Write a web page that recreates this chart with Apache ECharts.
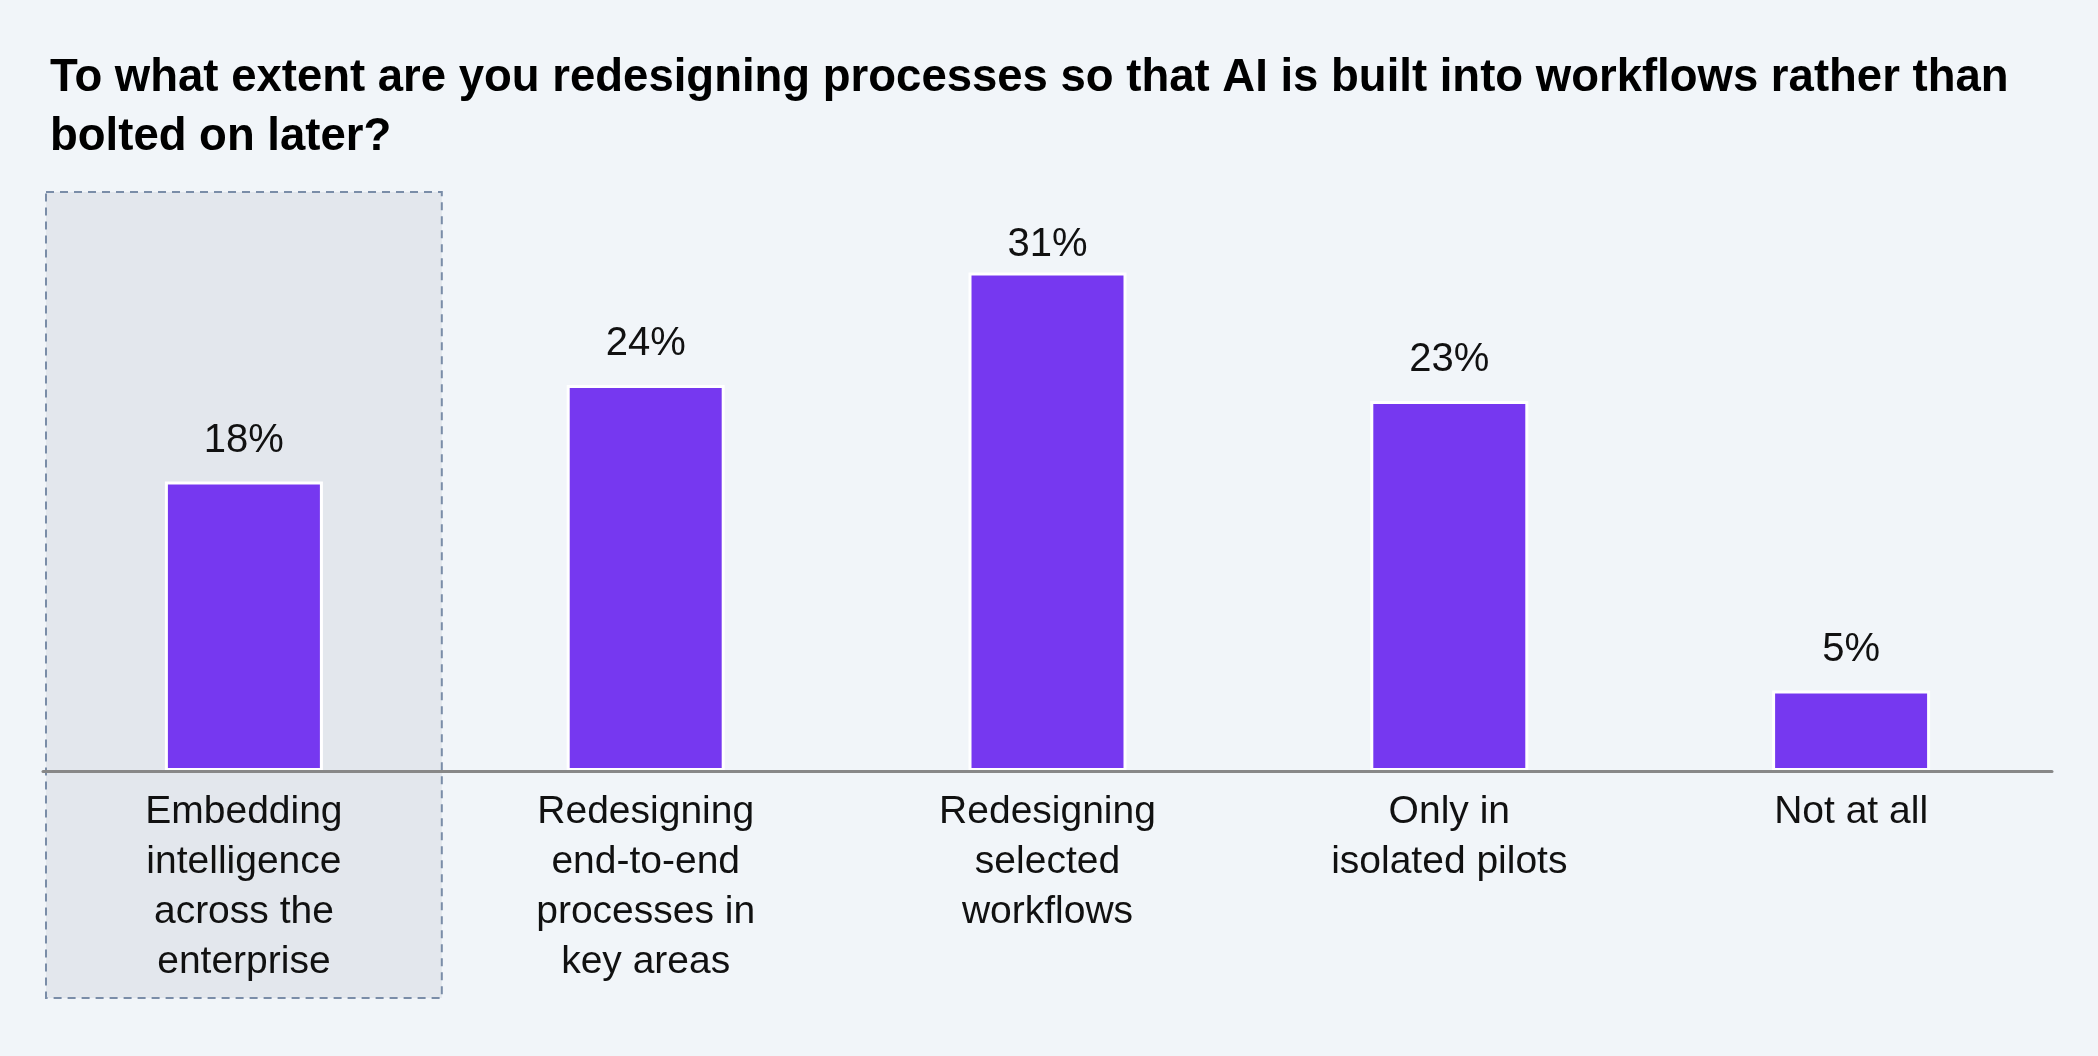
<!DOCTYPE html>
<html>
<head>
<meta charset="utf-8">
<title>AI process redesign</title>
<script src="https://cdn.jsdelivr.net/npm/echarts@6/dist/echarts.min.js"></script>
<style>
  html, body {
    margin: 0;
    padding: 0;
    background: #f1f5f9;
  }
  #chart {
    width: 2098px;
    height: 1056px;
  }
</style>
</head>
<body>
<div id="chart"></div>
<script>
// data
const categories = [
  'Embedding\nintelligence\nacross the\nenterprise',
  'Redesigning\nend-to-end\nprocesses in\nkey areas',
  'Redesigning\nselected\nworkflows',
  'Only in\nisolated pilots',
  'Not at all',
];
const shares = [18, 24, 31, 23, 5];
const highlightIndex = 0;

const FONT = '"Liberation Sans", Arial, Helvetica, sans-serif';

const chart = echarts.init(document.getElementById('chart'));

// the tallest bar's label sits a little closer to the bar in the original
const maxShare = Math.max(...shares);
const barData = shares.map((v) =>
  v === maxShare ? { value: v, label: { distance: 7 } } : v
);

const option = {
  backgroundColor: '#f1f5f9',
  animation: false,
  title: {
    text: 'To what extent are you redesigning processes so that AI is built into workflows rather than\nbolted on later?',
    left: 45,
    top: 44,
    textStyle: {
      fontFamily: FONT,
      fontSize: 45.5,
      fontWeight: 'bold',
      color: '#000',
      lineHeight: 59,
    },
  },
  grid: {
    left: 43,
    right: 46,
    top: 192,
    bottom: 285,
    containLabel: false,
  },
  xAxis: {
    type: 'category',
    data: categories,
    z: 5,
    axisLine: {
      show: true,
      lineStyle: { color: '#888888', width: 3 },
    },
    axisTick: { show: false },
    axisLabel: {
      interval: 0,
      margin: 16,
      fontFamily: FONT,
      fontSize: 39,
      lineHeight: 50,
      color: '#111',
    },
  },
  yAxis: {
    type: 'value',
    min: 0,
    max: 36,
    show: false,
    splitLine: { show: false },
  },
  series: [
    {
      type: 'bar',
      data: barData,
      barWidth: 158,
      itemStyle: {
        color: '#7638f0',
        borderColor: '#ffffff',
        borderWidth: 3,
      },
      label: {
        show: true,
        position: 'top',
        distance: 21,
        formatter: '{c}%',
        fontFamily: FONT,
        fontSize: 40,
        color: '#111',
      },
    },
  ],
};

chart.setOption(option);

// dashed highlight panel behind the first category, placed from the axis scale
function drawHighlight() {
  const cx = chart.convertToPixel({ xAxisIndex: 0 }, highlightIndex);
  const next = chart.convertToPixel({ xAxisIndex: 0 }, highlightIndex + 1);
  const band = next - cx;
  const top = chart.convertToPixel({ yAxisIndex: 0 }, 36);
  const base = chart.convertToPixel({ yAxisIndex: 0 }, 0);
  const half = band / 2 - 3;
  chart.setOption({
    graphic: [
      {
        type: 'rect',
        z: 0,
        silent: true,
        shape: { x: cx - half, y: top, width: half * 2, height: base - top + 227 },
        style: {
          fill: '#e3e7ed',
          stroke: '#7a8da8',
          lineWidth: 2,
          lineDash: [8, 6],
        },
      },
    ],
  });
}

drawHighlight();

window.addEventListener('resize', () => {
  chart.resize();
  drawHighlight();
});
</script>
</body>
</html>
